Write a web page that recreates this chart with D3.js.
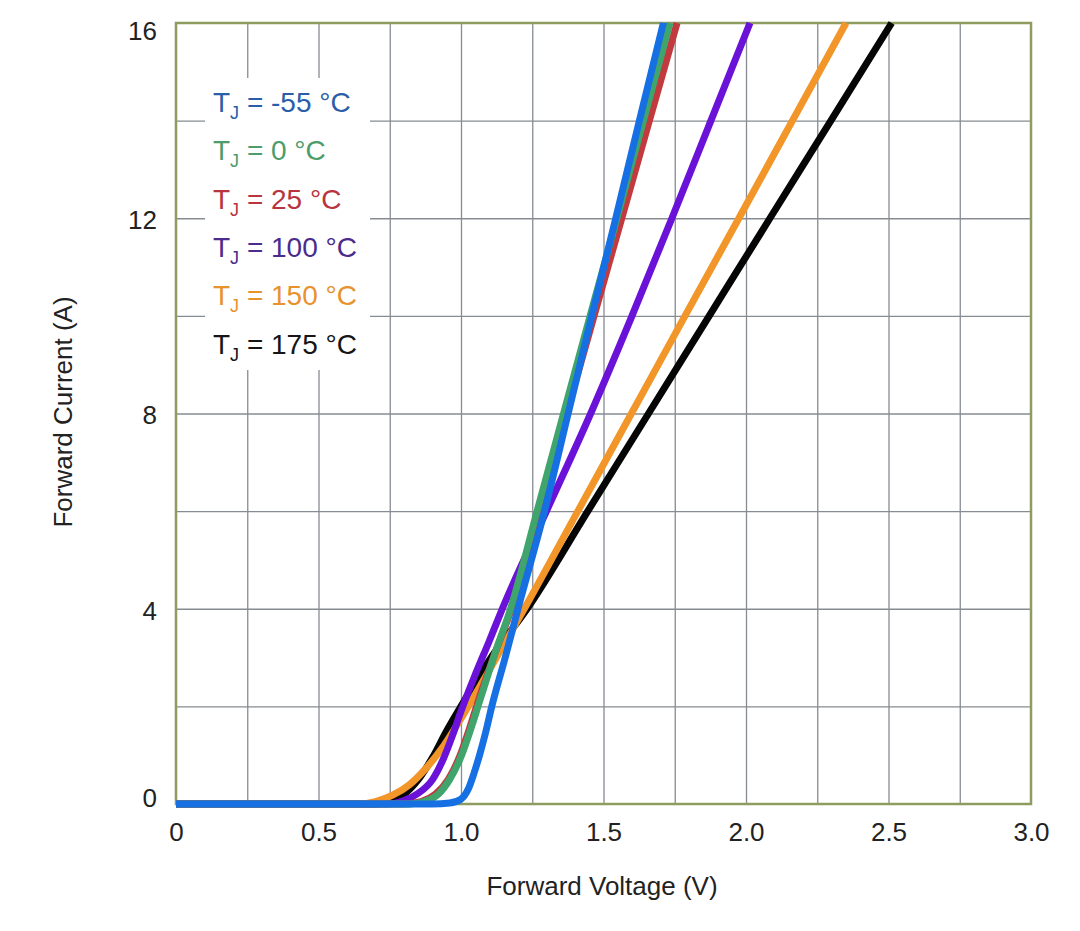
<!DOCTYPE html>
<html>
<head>
<meta charset="utf-8">
<script src="https://cdn.jsdelivr.net/npm/d3@7"></script>
<style>
  body { margin: 0; background: #fff; }
  svg text { font-family: "Liberation Sans", Arial, sans-serif; }
</style>
</head>
<body>
<svg id="chart" width="1080" height="931"></svg>
<script>
var xTicks = [0, 0.5, 1.0, 1.5, 2.0, 2.5, 3.0];
var xTickLabels = ["0", "0.5", "1.0", "1.5", "2.0", "2.5", "3.0"];
var yTicks = [0, 4, 8, 12, 16];
var xGrid = [0.25, 0.5, 0.75, 1.0, 1.25, 1.5, 1.75, 2.0, 2.25, 2.5, 2.75];
var yGrid = [2, 4, 6, 8, 10, 12, 14];

var tempLabels = ["-55", "0", "25", "100", "150", "175"];

var tjM55 = [[0,0],[0.9,0],[0.96,0.02],[1.0,0.1],[1.025,0.3],[1.045,0.62],[1.065,1.0],[1.087,1.48],[1.108,2.0],[1.155,3.0],[1.2,4],[1.293,6],[1.376,8],[1.459,10],[1.543,12],[1.626,14],[1.71,16]];
var tj0 = [[0,0],[0.82,0],[0.87,0.05],[0.92,0.2],[0.96,0.5],[1.0,0.97],[1.035,1.55],[1.065,2.1],[1.12,3.1],[1.174,4],[1.267,6],[1.36,8],[1.453,10],[1.547,12],[1.64,14],[1.733,16]];
var tj25 = [[0,0],[0.8,0],[0.86,0.05],[0.91,0.2],[0.955,0.5],[0.995,0.97],[1.03,1.55],[1.06,2.1],[1.12,3.1],[1.177,4],[1.274,6],[1.37,8],[1.467,10],[1.564,12],[1.661,14],[1.758,16]];
var tj100 = [[0,0],[0.74,0],[0.8,0.07],[0.85,0.22],[0.9,0.5],[0.94,0.95],[0.97,1.4],[1.0,1.9],[1.05,2.65],[1.1,3.35],[1.145,4],[1.3,6],[1.455,8],[1.6,10],[1.74,12],[1.877,14],[2.014,16]];
var tj150 = [[0,0],[0.64,0],[0.7,0.05],[0.76,0.18],[0.82,0.4],[0.88,0.75],[0.94,1.2],[1.0,1.75],[1.1,2.75],[1.222,4],[1.41,6],[1.598,8],[1.786,10],[1.975,12],[2.163,14],[2.351,16]];
var tj175 = [[0,0],[0.7,0],[0.75,0.05],[0.8,0.2],[0.85,0.5],[0.9,0.95],[0.95,1.5],[1.0,2.0],[1.1,2.95],[1.232,4],[1.445,6],[1.658,8],[1.871,10],[2.084,12],[2.298,14],[2.511,16]];

var lineColors = ["#1670e4", "#3fa56c", "#c23a3e", "#6a12d8", "#f2962a", "#050505"];
var textColors = ["#2b5ea8", "#4c9c6c", "#b8343f", "#4b2b8c", "#e8922e", "#151515"];

var series = [tjM55, tj0, tj25, tj100, tj150, tj175];

////////// layout
var svg = d3.select("#chart");
var x = d3.scaleLinear().domain([0, 3]).range([176, 1031]);
var y = d3.scaleLinear().domain([0, 16]).range([804, 23]);

// grid
svg.append("g")
  .attr("transform", "translate(0,804)")
  .call(d3.axisBottom(x).tickValues(xGrid).tickSize(-781).tickFormat(""))
  .call(function(g) { g.select(".domain").remove(); })
  .selectAll("line").attr("stroke", "#868c92").attr("stroke-width", 1.3);

svg.append("g")
  .attr("transform", "translate(176,0)")
  .call(d3.axisLeft(y).tickValues(yGrid).tickSize(-855).tickFormat(""))
  .call(function(g) { g.select(".domain").remove(); })
  .selectAll("line").attr("stroke", "#868c92").attr("stroke-width", 1.3);

// legend box hides the grid
svg.append("rect")
  .attr("x", 205).attr("y", 78)
  .attr("width", 165).attr("height", 292)
  .attr("fill", "#fff");

// border
svg.append("rect")
  .attr("x", 176).attr("y", 23)
  .attr("width", 855).attr("height", 781)
  .attr("fill", "none")
  .attr("stroke", "#8e9c60")
  .attr("stroke-width", 2.5);

// tick labels
var gx = svg.append("g")
  .attr("transform", "translate(0,804)")
  .call(d3.axisBottom(x).tickValues(xTicks).tickSize(0).tickPadding(19)
    .tickFormat(function(d, i) { return xTickLabels[i]; }));
gx.select(".domain").remove();
gx.selectAll("text").attr("font-size", 26).attr("fill", "#222")
  .attr("font-family", "Liberation Sans, Arial, sans-serif");

var gy = svg.append("g")
  .attr("transform", "translate(176,0)")
  .call(d3.axisLeft(y).tickValues(yTicks).tickSize(0).tickPadding(19));
gy.select(".domain").remove();
gy.selectAll("text").attr("font-size", 26).attr("fill", "#222")
  .attr("font-family", "Liberation Sans, Arial, sans-serif")
  .attr("dy", function(d) { return d == 16 ? "0.62em" : (d == 0 ? "0.1em" : "0.4em"); });

// axis titles
svg.append("text")
  .attr("x", 602).attr("y", 895)
  .attr("text-anchor", "middle")
  .attr("font-size", 26).attr("fill", "#222")
  .text("Forward Voltage (V)");

svg.append("text")
  .attr("transform", "translate(72,412) rotate(-90)")
  .attr("text-anchor", "middle")
  .attr("font-size", 26).attr("fill", "#222")
  .text("Forward Current (A)");

////////// curves
var line = d3.line()
  .x(function(d) { return x(d[0]); })
  .y(function(d) { return y(d[1]); })
  .curve(d3.curveMonotoneX);

// drawing order : black, orange, purple, red, green, blue on top
var order = [5, 4, 3, 2, 1, 0];
var plot = svg.append("g");
order.forEach(function(k) {
  plot.append("path")
    .datum(series[k])
    .attr("d", line)
    .attr("fill", "none")
    .attr("stroke", lineColors[k])
    .attr("stroke-width", 7)
    .attr("stroke-linejoin", "round");
});

////////// legend
var leg = svg.append("g");
tempLabels.forEach(function(t, i) {
  var txt = leg.append("text")
    .attr("x", 213)
    .attr("y", 112 + i * 48.3)
    .attr("font-size", 28)
    .attr("fill", textColors[i]);
  txt.append("tspan").text("T");
  txt.append("tspan").attr("dy", 7).attr("font-size", 18).text("J");
  txt.append("tspan").attr("dy", -7).text(" = " + t + " \u00B0C");
});
</script>
</body>
</html>
